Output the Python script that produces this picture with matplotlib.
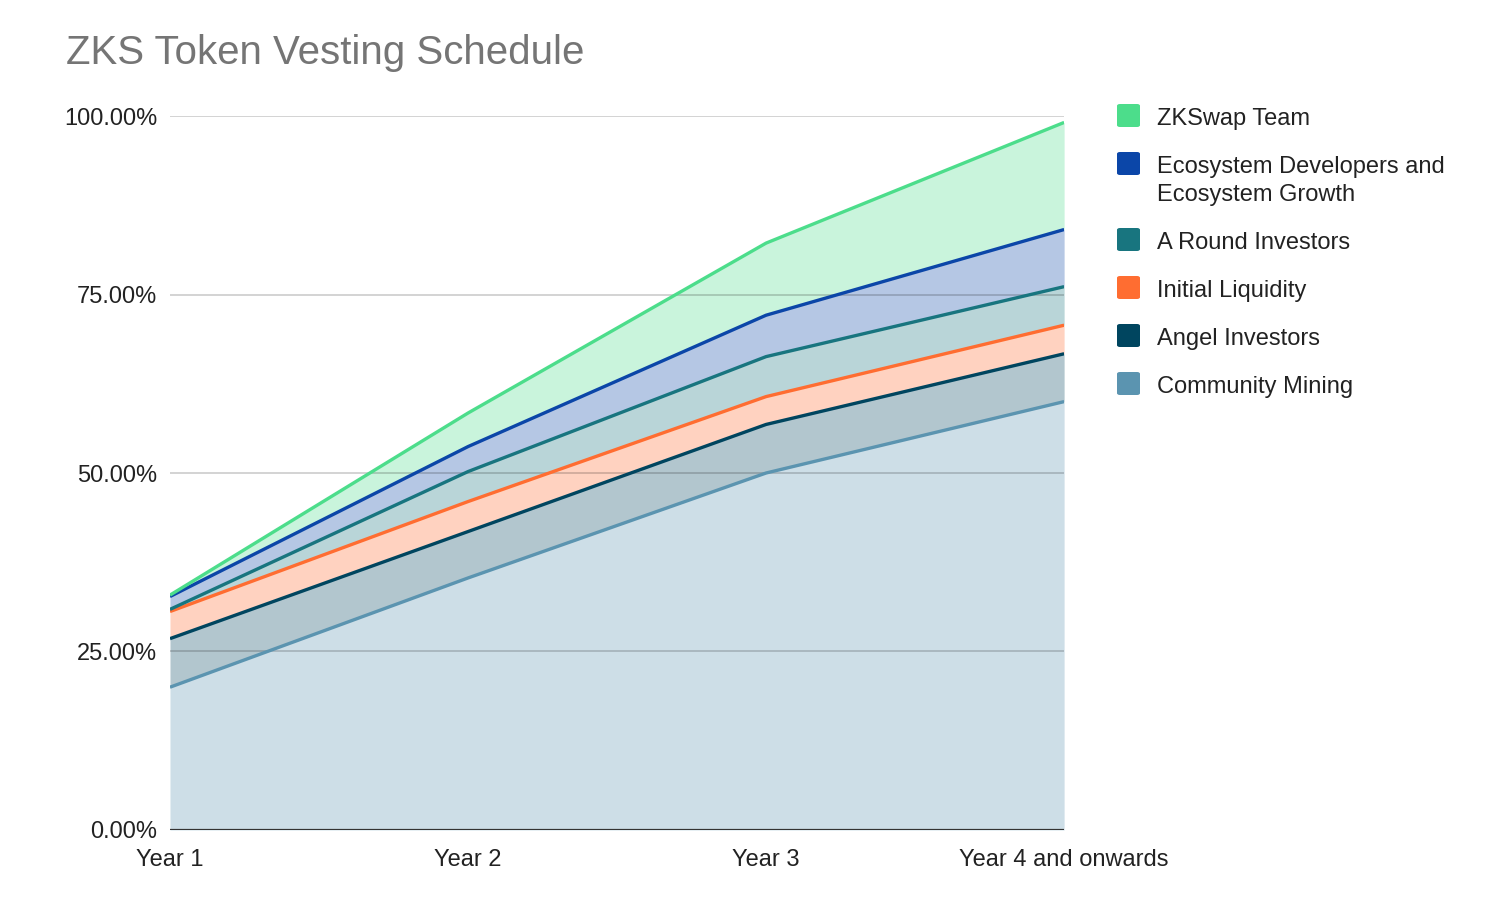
import numpy as np
import matplotlib.pyplot as plt
from matplotlib.patches import FancyBboxPatch

plt.rcParams['font.family'] = ['Liberation Sans', 'DejaVu Sans']

# data (percent unlocked per category, stacked bottom -> top)
years = ["Year 1", "Year 2", "Year 3", "Year 4 and onwards"]
community_mining = [20.0, 35.3, 50.0, 60.0]
angel_investors = [6.8, 6.5, 6.8, 6.7]
initial_liquidity = [3.8, 4.2, 3.9, 4.0]
a_round_investors = [0.3, 4.2, 5.6, 5.4]
ecosystem = [1.8, 3.5, 5.8, 8.0]
zkswap_team = [0.2, 4.7, 10.1, 15.0]

series = [community_mining, angel_investors, initial_liquidity,
          a_round_investors, ecosystem, zkswap_team]
labels = ["Community Mining", "Angel Investors", "Initial Liquidity",
          "A Round Investors", "Ecosystem Developers and\nEcosystem Growth",
          "ZKSwap Team"]
colors = ["#5b94b0", "#00455f", "#ff6d31", "#18757f", "#0b46a8", "#4cdd8b"]

fig = plt.figure(figsize=(14.86, 9.07), dpi=100)
ax = fig.add_axes([0.1144, 0.0849, 0.6017, 0.7872])

x = np.arange(len(years))
bottom = np.zeros(len(years))
for vals, col in zip(series, colors):
    top = bottom + np.array(vals) / 100
    ax.fill_between(x, bottom, top, color=col, alpha=0.3, linewidth=0, zorder=1)
    ax.plot(x, top, color=col, linewidth=2.4, zorder=3, solid_capstyle='butt')
    bottom = top

ax.set_xlim(0, 3)
ax.set_ylim(0, 1)
ax.set_yticks([0, 0.25, 0.5, 0.75, 1.0])
ax.set_yticklabels(["0.00%", "25.00%", "50.00%", "75.00%", "100.00%"])
ax.set_xticks(x)
ax.set_xticklabels(years)
ax.tick_params(length=0, labelsize=17, colors="#222222")
ax.tick_params(axis='y', pad=9)
ax.tick_params(axis='x', pad=14)
for y in [0.25, 0.5, 0.75, 1.0]:
    ax.axhline(y, color="black", alpha=0.2, linewidth=1.2, zorder=2)
ax.axhline(0, color="#333333", linewidth=1.6, zorder=4)
for s in ax.spines.values():
    s.set_visible(False)

fig.text(0.0444, 0.929, "ZKS Token Vesting Schedule", fontsize=29,
         color="#757575", va='baseline')

# legend drawn manually (top to bottom)
W, H = 1486, 907
legend_pos = [116, 164, 240, 288, 336, 384]
for idx, py in zip([5, 4, 3, 2, 1, 0], legend_pos):
    fig.patches.append(FancyBboxPatch((1117 / W, 1 - (py + 11) / H), 23 / W, 23 / H,
                                      boxstyle="round,pad=0,rounding_size=0.002",
                                      transform=fig.transFigure,
                                      facecolor=colors[idx], edgecolor='none'))
    for k, line in enumerate(labels[idx].split('\n')):
        fig.text(1157 / W, 1 - (py + 28 * k) / H, line, fontsize=17,
                 color="#222222", va='center_baseline')

fig.savefig("out.png", dpi=100)
